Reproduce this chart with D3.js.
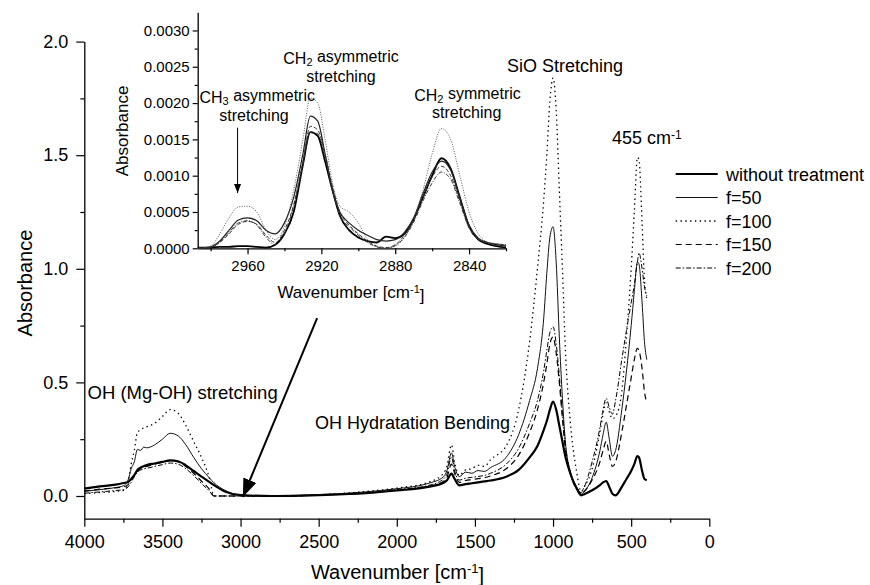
<!DOCTYPE html>
<html>
<head>
<meta charset="utf-8">
<title>FTIR spectra with D3.js</title>
<script src="https://d3js.org/d3.v7.min.js"></script>
<style>
  body { margin: 0; background: #fff; }
  svg text { font-family: "Liberation Sans", Arial, sans-serif; fill: #000; }
</style>
</head>
<body>
<div id="chart"></div>
<script>
// main spectrum, wavenumber in cm-1
var wavenumbers = [4000, 3900, 3800, 3750, 3720, 3700, 3680, 3660, 3640, 3620,
  3600, 3550, 3500, 3450, 3400, 3350, 3300, 3250, 3200, 3170,
  3100, 3000, 2800, 2500, 2200, 2000, 1800, 1700, 1680, 1650,
  1630, 1600, 1560, 1520, 1480, 1440, 1400, 1300, 1220, 1150,
  1100, 1060, 1040, 1020, 1000, 980, 960, 940, 920, 890,
  850, 820, 800, 750, 700, 680, 660, 640, 620, 600,
  560, 530, 500, 480, 460, 450, 430, 415, 400];

var withoutTreatment = [0.033, 0.042, 0.050, 0.057, 0.062, 0.075, 0.092, 0.115, 0.125, 0.131,
  0.136, 0.143, 0.150, 0.157, 0.153, 0.135, 0.110, 0.085, 0.062, 0.048,
  0.020, 0.004, 0.000, 0.004, 0.012, 0.024, 0.040, 0.058, 0.068, 0.098,
  0.075, 0.047, 0.052, 0.056, 0.060, 0.064, 0.068, 0.085, 0.115, 0.170,
  0.220, 0.290, 0.330, 0.380, 0.415, 0.380, 0.310, 0.240, 0.170, 0.100,
  0.035, 0.003, 0.008, 0.025, 0.048, 0.060, 0.066, 0.040, 0.010, 0.003,
  0.040, 0.075, 0.110, 0.140, 0.176, 0.170, 0.110, 0.075, 0.070];

var f50 = [0.020, 0.028, 0.037, 0.045, 0.070, 0.120, 0.150, 0.205, 0.200, 0.215,
  0.212, 0.225, 0.250, 0.276, 0.265, 0.225, 0.170, 0.120, 0.080, 0.058,
  0.025, 0.004, 0.001, 0.006, 0.018, 0.032, 0.055, 0.085, 0.110, 0.190,
  0.130, 0.085, 0.105, 0.100, 0.112, 0.108, 0.125, 0.170, 0.270, 0.420,
  0.560, 0.780, 0.980, 1.140, 1.185, 1.030, 0.700, 0.430, 0.230, 0.110,
  0.040, 0.008, 0.020, 0.080, 0.200, 0.270, 0.325, 0.250, 0.175, 0.200,
  0.380, 0.550, 0.750, 0.900, 1.030, 1.020, 0.850, 0.680, 0.600];

var f100 = [0.010, 0.015, 0.020, 0.025, 0.060, 0.140, 0.200, 0.280, 0.290, 0.300,
  0.305, 0.320, 0.350, 0.380, 0.365, 0.310, 0.240, 0.170, 0.080, 0.000,
  0.000, 0.000, 0.000, 0.005, 0.020, 0.035, 0.060, 0.100, 0.130, 0.225,
  0.150, 0.090, 0.115, 0.120, 0.135, 0.130, 0.160, 0.220, 0.380, 0.680,
  1.000, 1.300, 1.500, 1.740, 1.840, 1.700, 1.350, 1.000, 0.630, 0.330,
  0.110, 0.020, 0.040, 0.120, 0.280, 0.360, 0.410, 0.370, 0.340, 0.350,
  0.460, 0.700, 1.000, 1.250, 1.490, 1.480, 1.200, 0.950, 0.870];

var f150 = [0.022, 0.030, 0.036, 0.040, 0.050, 0.070, 0.090, 0.110, 0.120, 0.126,
  0.130, 0.140, 0.148, 0.155, 0.150, 0.130, 0.100, 0.065, 0.030, 0.000,
  0.000, 0.000, 0.000, 0.004, 0.013, 0.026, 0.042, 0.065, 0.080, 0.140,
  0.100, 0.060, 0.068, 0.072, 0.076, 0.080, 0.088, 0.120, 0.180, 0.280,
  0.380, 0.500, 0.580, 0.670, 0.700, 0.630, 0.500, 0.340, 0.200, 0.100,
  0.040, 0.010, 0.020, 0.070, 0.150, 0.200, 0.240, 0.180, 0.130, 0.150,
  0.280, 0.400, 0.520, 0.600, 0.650, 0.640, 0.560, 0.460, 0.410];

var f200 = [0.012, 0.018, 0.024, 0.028, 0.040, 0.060, 0.085, 0.105, 0.114, 0.119,
  0.122, 0.130, 0.138, 0.145, 0.140, 0.120, 0.090, 0.055, 0.022, 0.000,
  0.000, 0.000, 0.000, 0.004, 0.014, 0.028, 0.046, 0.075, 0.095, 0.170,
  0.110, 0.070, 0.078, 0.082, 0.086, 0.090, 0.100, 0.140, 0.210, 0.320,
  0.420, 0.550, 0.640, 0.720, 0.745, 0.670, 0.530, 0.360, 0.220, 0.100,
  0.030, 0.015, 0.040, 0.150, 0.300, 0.380, 0.430, 0.390, 0.360, 0.420,
  0.600, 0.730, 0.850, 0.930, 1.030, 1.070, 1.000, 0.920, 0.880];

// inset: C-H stretching region
var insetWavenumbers = [2987, 2980, 2975, 2970, 2965, 2960, 2955, 2950, 2945, 2940,
  2935, 2930, 2926, 2922, 2918, 2914, 2910, 2905, 2900, 2895,
  2890, 2885, 2880, 2875, 2870, 2865, 2860, 2855, 2850, 2845,
  2840, 2835, 2830, 2825, 2820];

var insetWithout = [0.00001, 0.00001, 0.00002, 0.00002, 0.00003, 0.00003, 0.00002, 0.00001, 0.00005, 0.00020,
  0.00050, 0.00115, 0.00160, 0.00155, 0.00120, 0.00080, 0.00045, 0.00025, 0.00015, 0.00010,
  0.00008, 0.00016, 0.00014, 0.00020, 0.00040, 0.00070, 0.00100, 0.00124, 0.00110, 0.00070,
  0.00030, 0.00012, 0.00006, 0.00003, 0.00001];

var insetF50 = [0.00000, 0.00002, 0.00010, 0.00025, 0.00039, 0.00042, 0.00038, 0.00025, 0.00020, 0.00035,
  0.00070, 0.00130, 0.00182, 0.00175, 0.00130, 0.00080, 0.00050, 0.00035, 0.00025, 0.00018,
  0.00012, 0.00010, 0.00012, 0.00022, 0.00042, 0.00075, 0.00105, 0.00120, 0.00108, 0.00070,
  0.00032, 0.00014, 0.00008, 0.00005, 0.00003];

var insetF100 = [0.00000, 0.00003, 0.00020, 0.00042, 0.00057, 0.00058, 0.00050, 0.00025, 0.00012, 0.00030,
  0.00080, 0.00150, 0.00207, 0.00200, 0.00150, 0.00090, 0.00058, 0.00050, 0.00035, 0.00012,
  0.00002, 0.00000, 0.00003, 0.00015, 0.00040, 0.00080, 0.00130, 0.00165, 0.00150, 0.00100,
  0.00050, 0.00020, 0.00008, 0.00004, 0.00002];

var insetF150 = [0.00000, 0.00002, 0.00008, 0.00020, 0.00033, 0.00037, 0.00033, 0.00018, 0.00008, 0.00025,
  0.00060, 0.00120, 0.00168, 0.00163, 0.00130, 0.00085, 0.00050, 0.00032, 0.00020, 0.00010,
  0.00003, 0.00001, 0.00005, 0.00018, 0.00040, 0.00070, 0.00098, 0.00113, 0.00100, 0.00065,
  0.00030, 0.00013, 0.00008, 0.00006, 0.00004];

var insetF200 = [0.00000, 0.00001, 0.00009, 0.00022, 0.00035, 0.00038, 0.00032, 0.00015, 0.00005, 0.00020,
  0.00058, 0.00115, 0.00160, 0.00158, 0.00125, 0.00080, 0.00045, 0.00030, 0.00018, 0.00008,
  0.00002, 0.00000, 0.00004, 0.00015, 0.00036, 0.00065, 0.00090, 0.00105, 0.00095, 0.00062,
  0.00028, 0.00012, 0.00008, 0.00006, 0.00005];

var seriesNames = ["without treatment", "f=50", "f=100", "f=150", "f=200"];

var xTicks = [4000, 3500, 3000, 2500, 2000, 1500, 1000, 500, 0];
var xMinorTicks = [3750, 3250, 2750, 2250, 1750, 1250, 750, 250];
var yTicks = [0.0, 0.5, 1.0, 1.5, 2.0];
var yMinorTicks = [0.25, 0.75, 1.25, 1.75];
var insetXTicks = [2960, 2920, 2880, 2840];
var insetXMinorTicks = [2980, 2940, 2900, 2860, 2820];
var insetYTicks = [0, 0.0005, 0.001, 0.0015, 0.002, 0.0025, 0.003];
var insetYMinorTicks = [0.00025, 0.00075, 0.00125, 0.00175, 0.00225, 0.00275];

// line style of each sample, same order as seriesNames
var lineStyles = [
  {width: 2.2, dash: null, color: "#000"},
  {width: 1.0, dash: null, color: "#111"},
  {width: 1.3, dash: "1.4,3.4", color: "#000"},
  {width: 1.2, dash: "6,4", color: "#000"},
  {width: 1.0, dash: "5,2,1.5,2", color: "#000"}
];

var width = 870, height = 585;
var svg = d3.select("#chart").append("svg")
  .attr("width", width).attr("height", height);

var defs = svg.append("defs");
defs.append("marker").attr("id", "bigHead")
  .attr("markerUnits", "userSpaceOnUse")
  .attr("markerWidth", 20).attr("markerHeight", 20)
  .attr("viewBox", "0 0 20 20").attr("refX", 18).attr("refY", 10)
  .attr("orient", "auto")
  .append("path").attr("d", "M0,3 L18,10 L0,17 Z").attr("fill", "#000");
defs.append("marker").attr("id", "smallHead")
  .attr("markerUnits", "userSpaceOnUse")
  .attr("markerWidth", 10).attr("markerHeight", 10)
  .attr("viewBox", "0 0 10 10").attr("refX", 9).attr("refY", 5)
  .attr("orient", "auto")
  .append("path").attr("d", "M0,1.5 L9,5 L0,8.5 Z").attr("fill", "#000");

function styleAxis(g, size) {
  g.selectAll("path.domain").attr("stroke", "#000").attr("stroke-width", 1.3);
  g.selectAll(".tick line").attr("stroke", "#000").attr("stroke-width", 1.2);
  g.selectAll(".tick text").style("font-size", size + "px")
    .style("font-family", "'Liberation Sans', Arial, sans-serif");
}

// ---------- main chart ----------
var x = d3.scaleLinear().domain([4000, 0]).range([84.3, 709.3]);
var y = d3.scaleLinear().domain([-0.1, 2.0]).range([518.7, 41.6]);

var gx = svg.append("g").attr("transform", "translate(0," + y(-0.1) + ")")
  .call(d3.axisBottom(x).tickValues(xTicks).tickSize(8).tickSizeOuter(0)
    .tickPadding(9).tickFormat(d3.format("d")));
styleAxis(gx, 18);
var gxm = svg.append("g").attr("transform", "translate(0," + y(-0.1) + ")")
  .call(d3.axisBottom(x).tickValues(xMinorTicks).tickSize(4).tickSizeOuter(0).tickFormat(""));
gxm.select("path.domain").remove();
styleAxis(gxm, 18);

var gy = svg.append("g").attr("transform", "translate(" + x(4000) + ",0)")
  .call(d3.axisLeft(y).tickValues(yTicks).tickSize(8).tickSizeOuter(0)
    .tickPadding(8).tickFormat(d3.format(".1f")));
styleAxis(gy, 18);
var gym = svg.append("g").attr("transform", "translate(" + x(4000) + ",0)")
  .call(d3.axisLeft(y).tickValues(yMinorTicks).tickSize(4).tickFormat(""));
gym.select("path.domain").remove();
styleAxis(gym, 18);

svg.append("text")
  .attr("transform", "translate(31.5,283) rotate(-90)")
  .attr("text-anchor", "middle").style("font-size", "20px")
  .text("Absorbance");

var xTitle = svg.append("text").attr("x", 397.5).attr("y", 579)
  .attr("text-anchor", "middle").style("font-size", "20px");
xTitle.append("tspan").text("Wavenumber [cm");
xTitle.append("tspan").attr("dy", "-0.45em").style("font-size", "13px").text("-1");
xTitle.append("tspan").attr("dy", "0.45em").text("]");

var mainSeries = [withoutTreatment, f50, f100, f150, f200];

var mainLine = d3.line()
  .x(function(d) { return x(d[0]); })
  .y(function(d) { return y(d[1]); })
  .curve(d3.curveMonotoneX);

svg.append("g").selectAll("path")
  .data(mainSeries)
  .enter().append("path")
  .attr("d", function(vals) {
    return mainLine(wavenumbers.map(function(w, i) { return [w, vals[i]]; }));
  })
  .attr("fill", "none")
  .attr("stroke", function(d, i) { return lineStyles[i].color; })
  .attr("stroke-width", function(d, i) { return lineStyles[i].width; })
  .attr("stroke-dasharray", function(d, i) { return lineStyles[i].dash; })
  .attr("stroke-linejoin", "round");

// annotations of the main chart
svg.append("text").attr("x", 565).attr("y", 71.7).attr("text-anchor", "middle")
  .style("font-size", "18px").text("SiO Stretching");
var t455 = svg.append("text").attr("x", 612).attr("y", 144).style("font-size", "18px");
t455.append("tspan").text("455 cm");
t455.append("tspan").attr("dy", "-0.45em").style("font-size", "12px").text("-1");
svg.append("text").attr("x", 87.5).attr("y", 399).style("font-size", "18.5px")
  .text("OH (Mg-OH) stretching");
svg.append("text").attr("x", 315).attr("y", 428.5).style("font-size", "18px")
  .text("OH Hydratation Bending");

svg.append("line")
  .attr("x1", x(2510)).attr("y1", y(0.783))
  .attr("x2", x(2985)).attr("y2", y(-0.004))
  .attr("stroke", "#000").attr("stroke-width", 2)
  .attr("marker-end", "url(#bigHead)");

// legend
var legend = svg.append("g");
seriesNames.forEach(function(name, i) {
  var ly = 174 + i * 23.5;
  legend.append("line")
    .attr("x1", 675.7).attr("x2", 717.7).attr("y1", ly).attr("y2", ly)
    .attr("stroke", lineStyles[i].color)
    .attr("stroke-width", lineStyles[i].width)
    .attr("stroke-dasharray", lineStyles[i].dash);
  legend.append("text").attr("x", 726).attr("y", ly + 6.5)
    .style("font-size", "18px").text(name);
});

// ---------- inset ----------
var xi = d3.scaleLinear().domain([2987, 2820]).range([197.7, 506]);
var yi = d3.scaleLinear().domain([0, 0.00325]).range([248.3, 12.3]);

var gix = svg.append("g").attr("transform", "translate(0," + yi(0) + ")")
  .call(d3.axisBottom(xi).tickValues(insetXTicks).tickSize(6).tickSizeOuter(0)
    .tickPadding(6).tickFormat(d3.format("d")));
styleAxis(gix, 15);
var gixm = svg.append("g").attr("transform", "translate(0," + yi(0) + ")")
  .call(d3.axisBottom(xi).tickValues(insetXMinorTicks).tickSize(3).tickFormat(""));
gixm.select("path.domain").remove();
styleAxis(gixm, 15);

var giy = svg.append("g").attr("transform", "translate(" + xi(2987) + ",0)")
  .call(d3.axisLeft(yi).tickValues(insetYTicks).tickSize(5).tickSizeOuter(0)
    .tickPadding(3).tickFormat(d3.format(".4f")));
styleAxis(giy, 15);
var giym = svg.append("g").attr("transform", "translate(" + xi(2987) + ",0)")
  .call(d3.axisLeft(yi).tickValues(insetYMinorTicks).tickSize(3).tickFormat(""));
giym.select("path.domain").remove();
styleAxis(giym, 15);

svg.append("text")
  .attr("transform", "translate(128,131) rotate(-90)")
  .attr("text-anchor", "middle").style("font-size", "17px")
  .text("Absorbance");

var xiTitle = svg.append("text").attr("x", 351).attr("y", 298)
  .attr("text-anchor", "middle").style("font-size", "17px");
xiTitle.append("tspan").text("Wavenumber [cm");
xiTitle.append("tspan").attr("dy", "-0.45em").style("font-size", "11px").text("-1");
xiTitle.append("tspan").attr("dy", "0.45em").text("]");

var insetSeries = [insetWithout, insetF50, insetF100, insetF150, insetF200];
var insetStyles = [
  {width: 1.8, dash: null, color: "#000"},
  {width: 1.2, dash: null, color: "#222"},
  {width: 0.9, dash: "1,1.5", color: "#444"},
  {width: 1.0, dash: "4,2", color: "#333"},
  {width: 1.0, dash: "4,1.5,1,1.5", color: "#333"}
];

var insetLine = d3.line()
  .x(function(d) { return xi(d[0]); })
  .y(function(d) { return yi(d[1]); })
  .curve(d3.curveMonotoneX);

svg.append("g").selectAll("path")
  .data(insetSeries)
  .enter().append("path")
  .attr("d", function(vals) {
    return insetLine(insetWavenumbers.map(function(w, i) { return [w, vals[i]]; }));
  })
  .attr("fill", "none")
  .attr("stroke", function(d, i) { return insetStyles[i].color; })
  .attr("stroke-width", function(d, i) { return insetStyles[i].width; })
  .attr("stroke-dasharray", function(d, i) { return insetStyles[i].dash; });

// inset annotations
function chemLabel(xp, yp, anchor, sub, rest) {
  var t = svg.append("text").attr("x", xp).attr("y", yp)
    .attr("text-anchor", anchor).style("font-size", "16px");
  t.append("tspan").text("CH");
  t.append("tspan").attr("dy", "0.22em").style("font-size", "11px").text(sub);
  t.append("tspan").attr("dy", "-0.22em").text(rest);
}
chemLabel(199.5, 102.5, "start", "3", " asymmetric");
svg.append("text").attr("x", 254).attr("y", 121).attr("text-anchor", "middle")
  .style("font-size", "16px").text("stretching");
chemLabel(341, 63.5, "middle", "2", " asymmetric");
svg.append("text").attr("x", 341).attr("y", 81.7).attr("text-anchor", "middle")
  .style("font-size", "16px").text("stretching");
chemLabel(467.5, 100.5, "middle", "2", " symmetric");
svg.append("text").attr("x", 466.7).attr("y", 117.8).attr("text-anchor", "middle")
  .style("font-size", "16px").text("stretching");

svg.append("line")
  .attr("x1", xi(2965.4)).attr("y1", yi(0.00166))
  .attr("x2", xi(2965.4)).attr("y2", yi(0.00076))
  .attr("stroke", "#000").attr("stroke-width", 1)
  .attr("marker-end", "url(#smallHead)");
</script>
</body>
</html>
